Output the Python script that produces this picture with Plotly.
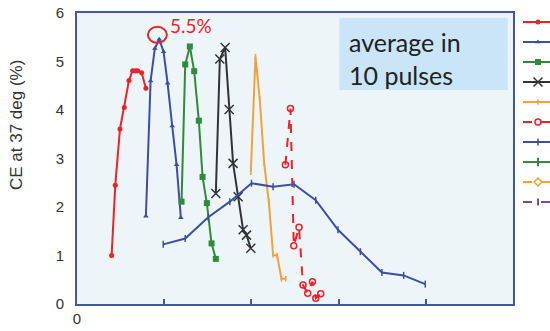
import plotly.graph_objects as go

# ---- data ----
s1_x = [0.397, 0.439, 0.493, 0.542, 0.596, 0.638, 0.668, 0.695, 0.741, 0.790]
s1_y = [1.00, 2.45, 3.61, 4.05, 4.61, 4.81, 4.81, 4.81, 4.77, 4.45]

s2_x = [0.790, 0.844, 0.893, 0.943, 0.993, 1.039, 1.092, 1.142, 1.191]
s2_y = [1.81, 4.60, 5.27, 5.46, 5.20, 4.55, 3.67, 2.87, 1.78]

s3_x = [1.199, 1.241, 1.294, 1.344, 1.397, 1.440, 1.489, 1.543, 1.592]
s3_y = [2.11, 4.94, 5.31, 4.80, 3.78, 2.62, 2.08, 1.25, 0.93]

s4_x = [1.592, 1.638, 1.699, 1.745, 1.790, 1.848, 1.905, 1.944, 1.993]
s4_y = [2.28, 5.05, 5.29, 4.01, 2.90, 2.21, 1.53, 1.42, 1.15]

s5_x = [1.993, 2.047, 2.096, 2.146, 2.199, 2.249, 2.295, 2.345, 2.394]
s5_y = [2.72, 5.10, 4.22, 2.91, 2.12, 1.01, 1.00, 0.52, 0.52]

s6_x = [2.390, 2.448, 2.486, 2.546, 2.592, 2.646, 2.700, 2.738, 2.795]
s6_y = [2.87, 4.03, 1.20, 1.58, 0.39, 0.22, 0.46, 0.12, 0.21]

s7_x = [0.989, 1.241, 1.505, 1.753, 2.001, 2.249, 2.489, 2.738, 2.993, 3.250, 3.497, 3.746, 3.994]
s7_y = [1.23, 1.35, 1.79, 2.11, 2.49, 2.42, 2.47, 2.14, 1.53, 1.08, 0.65, 0.59, 0.41]

# series whose curves are not visible in the picture (legend entries only)
s8_x, s8_y = [None], [None]
s9_x, s9_y = [None], [None]
s10_x, s10_y = [None], [None]

x_tickvals = [0, 1, 2, 3, 4]
x_ticktext = ["0", "", "", "", ""]
y_tickvals = [0, 1, 2, 3, 4, 5, 6]
y_title = "CE at 37 deg (%)"
peak_label = "5.5%"
box_text = "average in<br>10 pulses"
peak_x, peak_y = 0.922, 5.55

RED = "#ec2227"
BLUE = "#3d4ea3"
GREEN = "#2f8a3a"
BLACK = "#333333"
ORANGE = "#f2a23a"
PURPLE = "#7b4aa6"
FRAME = "#4656a8"

fig = go.Figure()

def add(x, y, color, symbol, size, dash="solid", mline=None, width=2):
    marker = dict(symbol=symbol, size=size, color=color)
    if mline is not None:
        marker["line"] = dict(color=color, width=mline)
    fig.add_trace(go.Scatter(x=x, y=y, mode="lines+markers", name=" ",
                             line=dict(color=color, width=width, dash=dash),
                             marker=marker))

add(s1_x, s1_y, RED, "circle", 5)
add(s2_x, s2_y, BLUE, "triangle-up", 5)
add(s3_x, s3_y, GREEN, "square", 6)
add(s4_x, s4_y, BLACK, "x-thin-open", 9, mline=1.5)
add(s5_x, s5_y, ORANGE, "line-ns-open", 4, mline=1.5)
add(s6_x, s6_y, RED, "circle-open", 6, dash="dash", mline=1.5)
add(s7_x, s7_y, BLUE, "line-ns-open", 5, mline=1.5)
add(s8_x, s8_y, GREEN, "line-ns-open", 6, mline=2)
add(s9_x, s9_y, ORANGE, "diamond-open", 6, dash="dash", mline=1.5)
add(s10_x, s10_y, PURPLE, "line-ns-open", 5, dash="dash", mline=2)

# highlight circle around the peak
fig.add_shape(type="circle", xref="x", yref="y",
              x0=peak_x - 0.109, x1=peak_x + 0.109,
              y0=peak_y - 0.165, y1=peak_y + 0.165,
              line=dict(color=RED, width=2))
fig.add_annotation(x=peak_x + 0.12, y=peak_y + 0.2, xref="x", yref="y",
                   text=peak_label, showarrow=False, xanchor="left", yanchor="middle",
                   font=dict(family="Lato", size=19, color=RED))

# text box
fig.add_shape(type="rect", xref="x", yref="y", x0=3.01, x1=4.94, y0=4.41, y1=5.90,
              line=dict(width=0), fillcolor="#c9e5f7", layer="below")
fig.add_annotation(x=3.10, y=5.06, xref="x", yref="y", text=box_text, showarrow=False,
                   xanchor="left", yanchor="middle", align="left",
                   font=dict(family="Lato", size=25, color="#222222"))

# y title
fig.add_annotation(x=-77 / 436 + 17 / 436, y=(304 - 125) / 291, xref="paper", yref="paper",
                   text=y_title, textangle=-90, showarrow=False,
                   xanchor="center", yanchor="middle",
                   font=dict(family="Liberation Sans", size=17, color="#333333"))

fig.update_xaxes(range=[0, 5], tickvals=x_tickvals, ticktext=x_ticktext,
                 ticks="inside", ticklen=5, tickwidth=2, tickcolor=FRAME,
                 showgrid=False, zeroline=False, showline=True, linecolor=FRAME,
                 linewidth=2, mirror=True,
                 tickfont=dict(family="Liberation Sans", size=15, color="#333333"))
fig.update_yaxes(range=[0, 6], tickvals=y_tickvals, ticks="", showgrid=False,
                 zeroline=False, showline=True, linecolor=FRAME, linewidth=2, mirror=True,
                 ticklabelstandoff=8,
                 tickfont=dict(family="Liberation Sans", size=15, color="#333333"))

fig.update_layout(
    width=550, height=331,
    margin=dict(l=77, r=37, t=13, b=27, autoexpand=False),
    paper_bgcolor="white", plot_bgcolor="#edf5f9",
    showlegend=True,
    legend=dict(x=(518 - 77) / 436, xanchor="left",
                y=(304 - 218) / 291, yanchor="bottom",
                bgcolor="rgba(0,0,0,0)", font=dict(size=13.08), tracegroupgap=0,
                itemwidth=30),
)

fig.write_html("out.html", config={"displayModeBar": False},
               post_script="document.body.style.margin='0';document.body.style.overflow='hidden';")
